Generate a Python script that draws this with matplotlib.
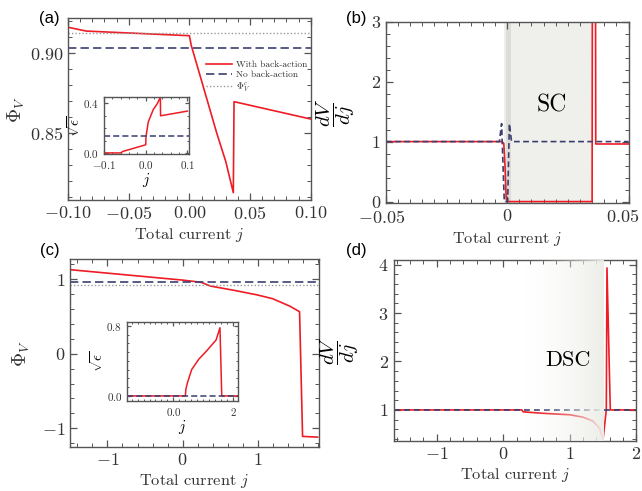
import numpy as np
import matplotlib
matplotlib.use("Agg")
import matplotlib.pyplot as plt
from matplotlib.ticker import MultipleLocator, FixedLocator, FixedFormatter
from matplotlib.transforms import ScaledTranslation

plt.rcParams['font.family'] = 'serif'
plt.rcParams['font.serif'] = ['cmr10']
plt.rcParams['mathtext.fontset'] = 'cm'
plt.rcParams['axes.formatter.use_mathtext'] = True
plt.rcParams['axes.unicode_minus'] = True

RED = '#ee1c25'
NAVY = '#3b3f70'
GREY = '#9a9a9a'
FRAME = '#555555'

# ---------------- data (a) ----------------
ja_red = [-0.1, -0.085, 0.0, 0.0015, 0.009, 0.0225, 0.03, 0.0362, 0.0368, 0.1]
pa_red = [0.9163, 0.9139, 0.9110, 0.9050, 0.8854, 0.8500, 0.8320, 0.8125, 0.8696, 0.8587]
pa_noback = 0.9035
pa_crit = 0.9129

ja_in = [-0.1, -0.06, -0.055, 0.0, 0.0005, 0.006, 0.018, 0.028, 0.035, 0.0355, 0.1]
ea_in = [0.0, 0.0, 0.012, 0.066, 0.13, 0.25, 0.35, 0.40, 0.45, 0.30, 0.338]
ea_noback = 0.137

# ---------------- data (b) ----------------
jb_red = [-0.05, -0.0022, -0.0014, -0.0009, -0.0004, 0.0, 0.035, 0.0351, 0.0364, 0.0365, 0.05]
db_red = [1.0, 1.0, 0.97, 0.6, 0.05, 0.0, 0.0, 3.5, 3.5, 0.96, 0.96]
jb_nb = [-0.05, -0.0032, -0.0023, -0.0012, 0.0002, 0.0009, 0.0018, 0.05]
db_nb = [1.0, 1.0, 1.3, 0.0, 0.0, 1.3, 1.0, 1.0]
sc_span = (-0.0015, 0.035)
sc_core = (-0.0005, 0.0016)

# ---------------- data (c) ----------------
jc_red = [-1.5, 0.0, 0.25, 0.37, 0.7, 1.0, 1.2, 1.43, 1.56, 1.6, 1.8]
pc_red = [1.13, 0.99, 0.96, 0.91, 0.85, 0.79, 0.74, 0.64, 0.565, -1.11, -1.12]
pc_noback = 0.97
pc_crit = 0.93

jc_in = [-1.55, 0.4, 0.42, 0.47, 0.61, 0.85, 1.1, 1.43, 1.56, 1.62, 2.17]
ec_in = [0.0, 0.0, 0.08, 0.15, 0.30, 0.42, 0.51, 0.64, 0.78, 0.0, 0.0]
ec_noback = 0.0

# ---------------- data (d) ----------------
jd_red = [-1.65, 0.28, 0.3, 0.6, 1.0, 1.2, 1.35, 1.45, 1.5, 1.55, 1.56, 1.61, 2.0]
dd_red = [1.0, 1.0, 0.96, 0.93, 0.90, 0.85, 0.77, 0.62, 0.38, 1.0, 3.93, 1.0, 1.0]
dd_noback = 1.0
dsc_span = (0.28, 1.5)


def style(ax, xmaj, xmin, ymaj, ymin, size=13, length=5):
    for s in ax.spines.values():
        s.set_color(FRAME)
        s.set_linewidth(1.0)
    ax.xaxis.set_major_locator(MultipleLocator(xmaj))
    ax.xaxis.set_minor_locator(MultipleLocator(xmin))
    ax.yaxis.set_major_locator(MultipleLocator(ymaj))
    ax.yaxis.set_minor_locator(MultipleLocator(ymin))
    ax.tick_params(which='both', direction='in', top=True, right=True,
                   color=FRAME, labelsize=size, labelcolor='#333333')
    ax.tick_params(which='major', length=length, width=0.9)
    ax.tick_params(which='minor', length=length * 0.55, width=0.7)


def nudge(label, dx, dy):
    label.set_transform(label.get_transform() + ScaledTranslation(dx / 100, dy / 100, fig.dpi_scale_trans))


fig = plt.figure(figsize=(6.42, 4.91), dpi=100)
XL = 11.8

# ---------- (a) ----------
ax = fig.add_axes([0.106, 0.593, 0.378, 0.370])
ax.plot(ja_red, pa_red, color=RED, lw=1.2, label='With back-action')
ax.axhline(pa_noback, color=NAVY, lw=1.2, ls=(0, (5, 2.5)), label='No back-action')
ax.axhline(pa_crit, color=GREY, lw=1.0, ls=(0, (1, 1.5)), label=r'$\Phi_V^c$')
ax.set_xlim(-0.1, 0.1)
ax.set_ylim(0.808, 0.922)
style(ax, 0.05, 0.01, 0.05, 0.01)
ax.xaxis.set_major_formatter(plt.FuncFormatter(lambda v, p: '$%.2f$' % v if abs(v) > 1e-9 else '$0.00$'))
ax.yaxis.set_major_formatter(plt.FuncFormatter(lambda v, p: '$%.2f$' % v))
ax.set_xlabel('Total current $j$', fontsize=XL, labelpad=3, color='#333333')
ax.set_ylabel(r'$\Phi_V$', fontsize=14, labelpad=2, color='#333333')
leg = ax.legend(loc='upper left', bbox_to_anchor=(0.568, 0.765), frameon=False,
                fontsize=6.8, handlelength=2.8, labelspacing=0.12,
                handletextpad=0.35, borderpad=0, borderaxespad=0)
for t in leg.get_texts():
    t.set_color('#333333')
fig.text(0.077, 0.962, '(a)', family='Liberation Sans', fontsize=12, va='center', ha='center')

ins = fig.add_axes([0.162, 0.686, 0.132, 0.116])
ins.plot(ja_in, ea_in, color=RED, lw=1.1)
ins.axhline(ea_noback, color=NAVY, lw=1.1, ls=(0, (4, 2)))
ins.set_xlim(-0.1, 0.103)
ins.set_ylim(-0.01, 0.45)
style(ins, 0.1, 0.02, 0.4, 0.1, size=8, length=3)
ins.xaxis.set_major_formatter(plt.FuncFormatter(lambda v, p: '$%.1f$' % v))
ins.yaxis.set_major_formatter(plt.FuncFormatter(lambda v, p: '$%.1f$' % v))
ins.set_xlabel('$j$', fontsize=11, labelpad=0)
ins.set_ylabel(r'$\sqrt{\epsilon}$', fontsize=11, labelpad=0)

# ---------- (b) ----------
ax = fig.add_axes([0.601, 0.587, 0.378, 0.369])
ax.axvspan(*sc_span, color='#efefeb', lw=0, zorder=0)
ax.axvspan(*sc_core, color='#dddcd6', lw=0, zorder=0)
ax.plot(jb_red, db_red, color=RED, lw=1.2)
ax.plot(jb_nb, db_nb, color=NAVY, lw=1.2, ls=(0, (3.5, 2)))
ax.text(0.0185, 1.6, 'SC', fontsize=17, ha='center', va='center')
ax.set_xlim(-0.05, 0.05)
ax.set_ylim(-0.02, 3)
style(ax, 0.05, 0.005, 1, 0.2)
ax.xaxis.set_major_locator(FixedLocator([-0.05, 0, 0.05]))
ax.xaxis.set_major_formatter(FixedFormatter(['$-0.05$', '$0$', '$0.05$']))
ax.set_xlabel('Total current $j$', fontsize=XL, labelpad=3, color='#333333')
ax.set_ylabel(r'$\dfrac{dV}{dj}$', fontsize=15, labelpad=10)
fig.canvas.draw()
xl = ax.get_xticklabels()
nudge(xl[0], -4, -1)
nudge(xl[-1], -6, 0)
nudge(ax.get_yticklabels()[0], 0, 3)
fig.text(0.555, 0.962, '(b)', family='Liberation Sans', fontsize=12, va='center', ha='center')

# ---------- (c) ----------
ax = fig.add_axes([0.109, 0.090, 0.388, 0.382])
ax.plot(jc_red, pc_red, color=RED, lw=1.2)
ax.axhline(pc_noback, color=NAVY, lw=1.2, ls=(0, (5, 2.5)))
ax.axhline(pc_crit, color=GREY, lw=1.0, ls=(0, (1, 1.5)))
ax.set_xlim(-1.5, 1.82)
ax.set_ylim(-1.25, 1.27)
style(ax, 1, 0.2, 1, 0.2)
ax.set_xlabel('Total current $j$', fontsize=XL, labelpad=3, color='#333333')
ax.set_ylabel(r'$\Phi_V$', fontsize=14, labelpad=7, color='#333333')
fig.text(0.077, 0.490, '(c)', family='Liberation Sans', fontsize=12, va='center', ha='center')

ins = fig.add_axes([0.198, 0.184, 0.173, 0.161])
ins.plot(jc_in, ec_in, color=RED, lw=1.1)
ins.axhline(ec_noback, color=NAVY, lw=1.1, ls=(0, (4, 2)))
ins.set_xlim(-1.55, 2.17)
ins.set_ylim(-0.054, 0.85)
style(ins, 2, 0.2, 0.8, 0.1, size=8, length=3)
ins.xaxis.set_major_locator(FixedLocator([0, 2]))
ins.xaxis.set_major_formatter(FixedFormatter(['$0.0$', '$2$']))
ins.yaxis.set_major_formatter(plt.FuncFormatter(lambda v, p: '$%.1f$' % v))
ins.set_xlabel('$j$', fontsize=11, labelpad=0)
ins.set_ylabel(r'$\sqrt{\epsilon}$', fontsize=11, labelpad=0)

# ---------- (d) ----------
ax = fig.add_axes([0.613, 0.102, 0.378, 0.369])
ax.plot(jd_red, dd_red, color=RED, lw=1.2, zorder=2)
ax.axhline(dd_noback, color=NAVY, lw=1.2, ls=(0, (3.5, 2.5)), zorder=2)
ylo, yhi = 0.36, 4.1
g = np.linspace(0, 1, 256)
rgba = np.zeros((1, 256, 4))
rgba[..., 0] = 0.93
rgba[..., 1] = 0.93
rgba[..., 2] = 0.91
rgba[..., 3] = 0.97 * g ** 1.6
ax.imshow(rgba, extent=[dsc_span[0], dsc_span[1], ylo, yhi], aspect='auto',
          origin='lower', zorder=3, interpolation='bilinear')
ax.text(0.97, 2.02, 'DSC', fontsize=16, ha='center', va='center', zorder=4)
ax.set_xlim(-1.65, 2.0)
ax.set_ylim(ylo, yhi)
style(ax, 1, 0.2, 1, 0.2)
ax.set_xlabel('Total current $j$', fontsize=XL, labelpad=3, color='#333333')
ax.set_ylabel(r'$\dfrac{dV}{dj}$', fontsize=15, labelpad=12)
fig.text(0.555, 0.490, '(d)', family='Liberation Sans', fontsize=12, va='center', ha='center')

fig.savefig('out.png', dpi=100)
